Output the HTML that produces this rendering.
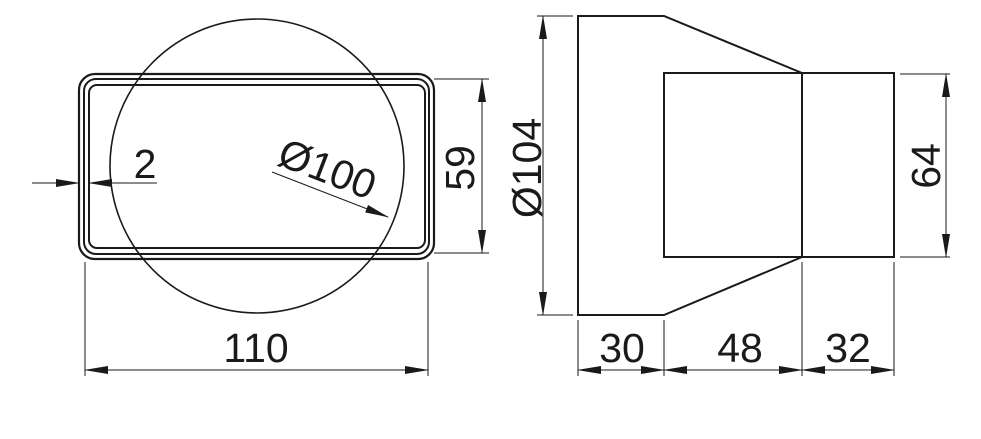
<!DOCTYPE html><html><head><style>body{margin:0;background:#fff}svg{display:block}</style></head><body>
<svg width="981" height="439" viewBox="0 0 981 439" xmlns="http://www.w3.org/2000/svg">
<defs><marker id="a" markerWidth="24" markerHeight="8" refX="23" refY="4" orient="auto" markerUnits="userSpaceOnUse"><path d="M0,0 L24,4 L0,8 Z" fill="#1a1a1a"/></marker></defs>
<g fill="none" stroke="#1a1a1a" stroke-width="2">
<circle cx="257" cy="166" r="147" stroke-width="1.6"/>
<rect x="79" y="74" width="355" height="185" rx="16" stroke-width="2.2"/>
<rect x="84" y="79" width="345" height="175" rx="12"/>
<rect x="89" y="85" width="336" height="163" rx="8"/>
</g>
<g stroke="#1a1a1a" stroke-width="1" fill="none">
<line x1="32" y1="183" x2="79" y2="183" marker-end="url(#a)"/>
<line x1="157" y1="183" x2="89" y2="183" marker-end="url(#a)"/>
<line x1="272" y1="172" x2="388" y2="217" marker-end="url(#a)"/>
<line x1="434" y1="79" x2="489" y2="79"/><line x1="434" y1="253" x2="489" y2="253"/>
<line x1="482" y1="166" x2="482" y2="79" marker-end="url(#a)"/><line x1="482" y1="166" x2="482" y2="253" marker-end="url(#a)"/>
<line x1="85" y1="262" x2="85" y2="376"/><line x1="428" y1="262" x2="428" y2="376"/>
<line x1="256" y1="370" x2="85" y2="370" marker-end="url(#a)"/><line x1="256" y1="370" x2="428" y2="370" marker-end="url(#a)"/>
<line x1="537" y1="16" x2="573" y2="16"/><line x1="537" y1="315" x2="573" y2="315"/>
<line x1="543" y1="166" x2="543" y2="16" marker-end="url(#a)"/><line x1="543" y1="166" x2="543" y2="315" marker-end="url(#a)"/>
<line x1="900" y1="74" x2="950" y2="74"/><line x1="900" y1="257" x2="950" y2="257"/>
<line x1="946" y1="166" x2="946" y2="74" marker-end="url(#a)"/><line x1="946" y1="166" x2="946" y2="257" marker-end="url(#a)"/>
<line x1="578" y1="320" x2="578" y2="376"/><line x1="664" y1="320" x2="664" y2="376"/><line x1="802" y1="262" x2="802" y2="376"/><line x1="894" y1="262" x2="894" y2="376"/>
<line x1="621" y1="370" x2="578" y2="370" marker-end="url(#a)"/><line x1="621" y1="370" x2="664" y2="370" marker-end="url(#a)"/>
<line x1="733" y1="370" x2="664" y2="370" marker-end="url(#a)"/><line x1="733" y1="370" x2="802" y2="370" marker-end="url(#a)"/>
<line x1="848" y1="370" x2="802" y2="370" marker-end="url(#a)"/><line x1="848" y1="370" x2="894" y2="370" marker-end="url(#a)"/>
</g>
<g stroke="#1a1a1a" stroke-width="2" fill="none">
<path d="M578,16 L664,16 L802,73 L802,257 L664,315 L578,315 Z"/>
<rect x="664" y="73" width="138" height="184"/>
<rect x="802" y="73" width="92" height="184"/>
</g>
<g font-family="Liberation Sans, DejaVu Sans, sans-serif" font-size="41" fill="#1a1a1a" text-anchor="middle">
<text x="145" y="178">2</text>
<text x="327" y="183" transform="rotate(21 327 170)">Ø100</text>
<text x="0" y="0" transform="translate(474 168) rotate(-90)">59</text>
<text x="256" y="362">110</text>
<text x="0" y="0" transform="translate(541 168) rotate(-90)">Ø104</text>
<text x="0" y="0" transform="translate(940 166) rotate(-90)">64</text>
<text x="622" y="362">30</text>
<text x="740" y="362">48</text>
<text x="848" y="362">32</text>
</g>
</svg></body></html>
